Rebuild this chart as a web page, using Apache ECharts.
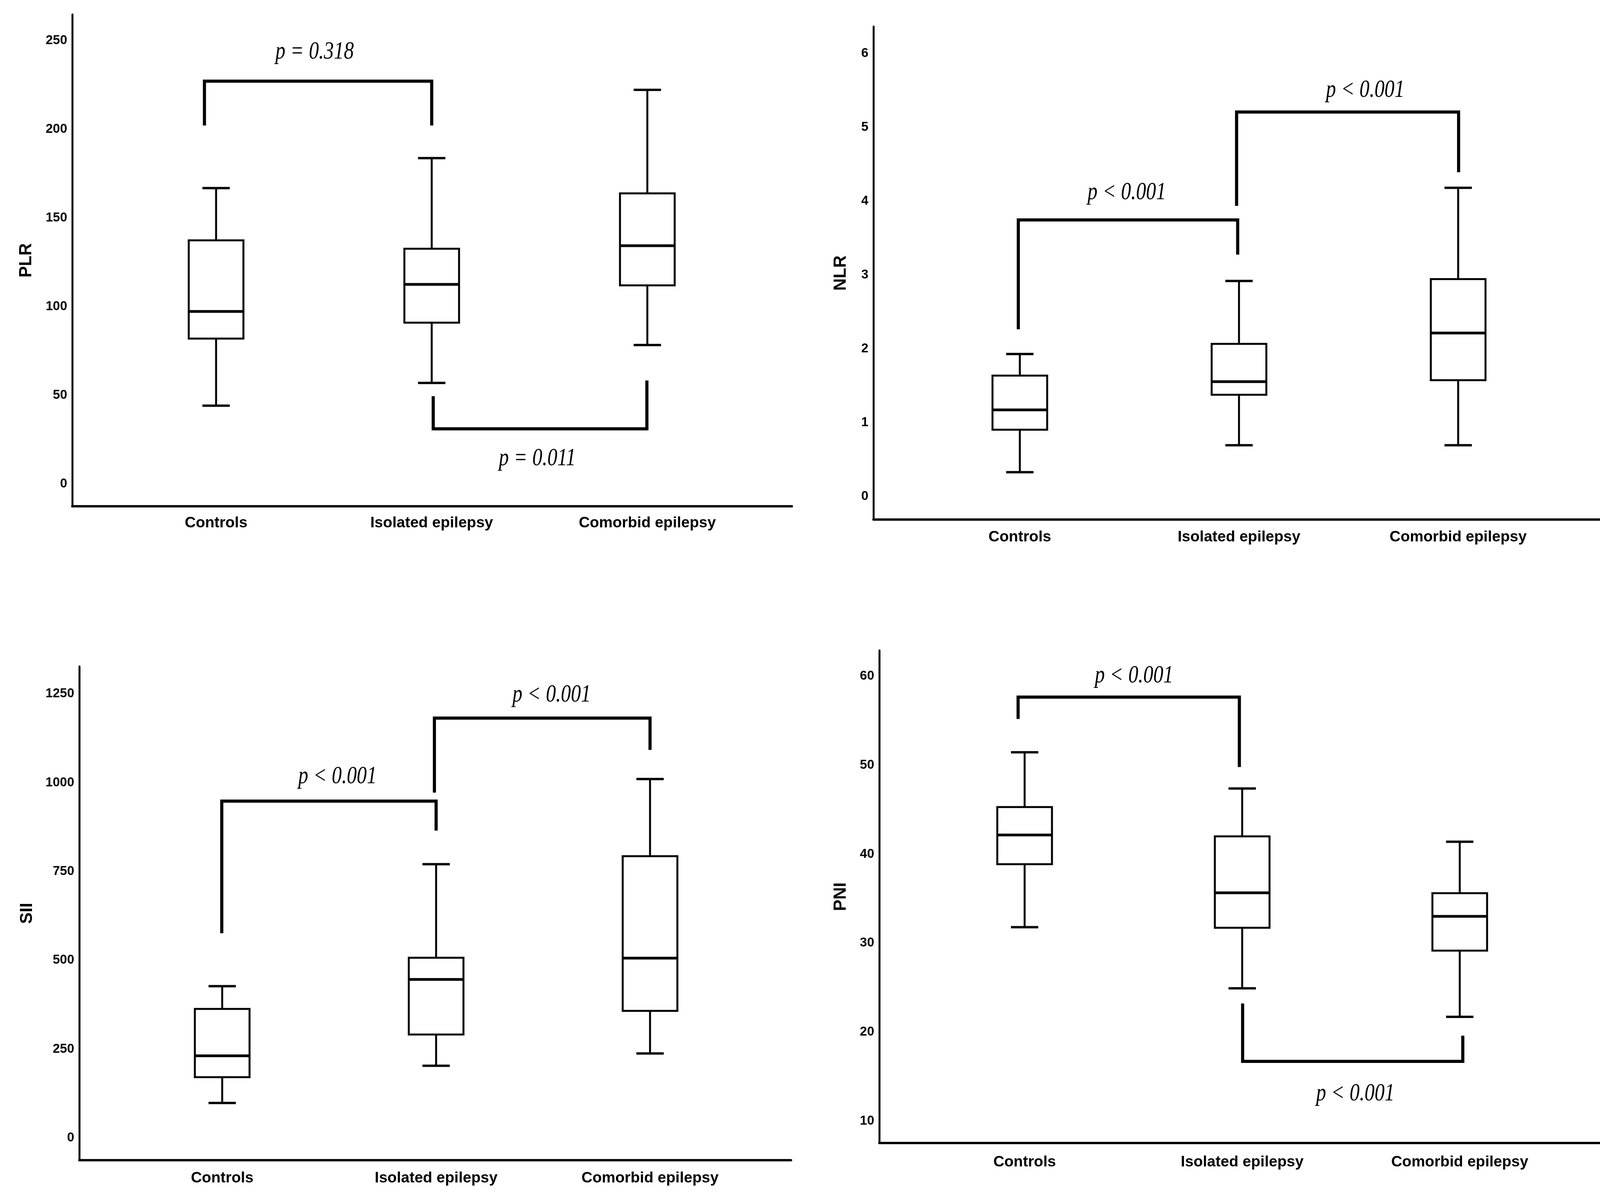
<!DOCTYPE html>
<html><head><meta charset="utf-8">
<script src="https://cdn.jsdelivr.net/npm/echarts@6/dist/echarts.min.js"></script>
<style>html,body{margin:0;padding:0;background:#fff}#c{width:4150px;height:3077px}</style>
</head><body><div id="c"></div>
<script>
const categories = ['Controls', 'Isolated epilepsy', 'Comorbid epilepsy'];
// box values per group: [min, Q1, median, Q3, max]
const plrValues = [[44.2, 82.0, 97.3, 137.4, 166.9], [57.0, 91.0, 112.6, 132.7, 183.8], [78.4, 112.0, 134.4, 163.9, 222.3]];
const nlrValues = [[0.33, 0.905, 1.174, 1.638, 1.93], [0.694, 1.379, 1.555, 2.068, 2.919], [0.694, 1.575, 2.215, 2.944, 4.181]];
const siiValues = [[98.5, 171, 231, 363, 427], [203, 291, 446, 507, 770.5], [237.6, 357.5, 506, 793, 1010]];
const pniValues = [[31.8, 38.87, 42.16, 45.29, 51.45], [24.93, 31.73, 35.66, 42.0, 47.38], [21.72, 29.16, 33.01, 35.62, 41.4]];
// y tick labels
const plrTicks = [0, 50, 100, 150, 200, 250];
const nlrTicks = [0, 1, 2, 3, 4, 5, 6];
const siiTicks = [0, 250, 500, 750, 1000, 1250];
const pniTicks = [10, 20, 30, 40, 50, 60];
// significance brackets: [x from, x to, bar value, left leg end, right leg end]
const plrBrackets = [[-0.054, 1.0, 227.2, 202.2, 202.2], [1.007, 1.998, 31.1, 49.5, 58.4]];
const nlrBrackets = [[-0.007, 0.994, 3.746, 2.264, 3.276], [0.989, 2.002, 5.208, 3.936, 4.391]];
const siiBrackets = [[-0.002, 1.0, 948, 576, 865], [0.992, 2.0, 1181.5, 972, 1092]];
const pniBrackets = [[-0.03, 0.987, 57.65, 55.2, 49.8], [1.002, 2.014, 16.72, 23.22, 19.6]];
// p-value annotations: text and [x, y]
const plrPText = ['p = 0.318', 'p = 0.011'];
const plrPPos = [[0.457, 243.6], [1.49, 14.3]];
const nlrPText = ['p < 0.001', 'p < 0.001'];
const nlrPPos = [[0.488, 4.117], [1.576, 5.501]];
const siiPText = ['p < 0.001', 'p < 0.001'];
const siiPPos = [[0.539, 1017], [1.54, 1247]];
const pniPText = ['p < 0.001', 'p < 0.001'];
const pniPPos = [[0.503, 60.04], [1.52, 13.08]];

const SANS = "'Liberation Sans',Arial,Helvetica,sans-serif";
const panels = [
  {name: 'PLR', values: plrValues, ticks: plrTicks, brackets: plrBrackets, ptext: plrPText, ppos: plrPPos,
   grid: {left: 185, top: 37, width: 1842, height: 1259}, x: [-0.667, 2.670], y: [-12.55, 264.8], nameGap: 95, catMargin: 24},
  {name: 'NLR', values: nlrValues, ticks: nlrTicks, brackets: nlrBrackets, ptext: nlrPText, ppos: nlrPPos,
   grid: {left: 2236, top: 68, width: 1870, height: 1262}, x: [-0.668, 2.665], y: [-0.312, 6.365], nameGap: 61, catMargin: 26},
  {name: 'SII', values: siiValues, ticks: siiTicks, brackets: siiBrackets, ptext: siiPText, ppos: siiPPos,
   grid: {left: 203, top: 1706, width: 1822, height: 1264}, x: [-0.668, 2.659], y: [-62.7, 1327], nameGap: 111, catMargin: 27},
  {name: 'PNI', values: pniValues, ticks: pniTicks, brackets: pniBrackets, ptext: pniPText, ppos: pniPPos,
   grid: {left: 2251, top: 1665, width: 1858, height: 1261}, x: [-0.668, 2.668], y: [7.54, 62.9], nameGap: 76, catMargin: 30}
];

function renderBox(params, api) {
  const x = api.value(0);
  const c = v => api.coord([x, v]);
  const pMin = c(api.value(1)), pQ1 = c(api.value(2)), pMed = c(api.value(3)), pQ3 = c(api.value(4)), pMax = c(api.value(5));
  const cx = pMin[0], bw = 140, cw = 70;
  const ls = {stroke: '#000', lineWidth: 5};
  return {type: 'group', children: [
    {type: 'line', shape: {x1: cx, y1: pQ3[1], x2: cx, y2: pMax[1]}, style: ls},
    {type: 'line', shape: {x1: cx, y1: pQ1[1], x2: cx, y2: pMin[1]}, style: ls},
    {type: 'line', shape: {x1: cx - cw / 2, y1: pMax[1], x2: cx + cw / 2, y2: pMax[1]}, style: {stroke: '#000', lineWidth: 6}},
    {type: 'line', shape: {x1: cx - cw / 2, y1: pMin[1], x2: cx + cw / 2, y2: pMin[1]}, style: {stroke: '#000', lineWidth: 6}},
    {type: 'rect', shape: {x: cx - bw / 2, y: pQ3[1], width: bw, height: pQ1[1] - pQ3[1]}, style: {stroke: '#000', lineWidth: 5, fill: '#fff'}},
    {type: 'line', shape: {x1: cx - bw / 2, y1: pMed[1], x2: cx + bw / 2, y2: pMed[1]}, style: {stroke: '#000', lineWidth: 7}}
  ]};
}
function renderBracket(params, api) {
  const x1 = api.value(0), x2 = api.value(1), yb = api.value(2), l1 = api.value(3), l2 = api.value(4);
  const pts = [api.coord([x1, l1]), api.coord([x1, yb]), api.coord([x2, yb]), api.coord([x2, l2])];
  return {type: 'polyline', shape: {points: pts}, style: {stroke: '#000', lineWidth: 8, fill: null, lineJoin: 'miter', lineCap: 'butt'}};
}
function makeTextRenderer(texts) {
  return function (params, api) {
    const p = api.coord([api.value(0), api.value(1)]);
    return {type: 'text', x: p[0], y: p[1], scaleX: 0.8,
      style: {x: 0, y: 0, text: texts[params.dataIndex], align: 'center', verticalAlign: 'middle',
        font: "italic 64px 'Liberation Serif','Times New Roman',serif", fill: '#000'}};
  };
}

const grids = [], xAxes = [], yAxes = [], series = [];
panels.forEach((p, i) => {
  grids.push(Object.assign({containLabel: false}, p.grid));
  xAxes.push({type: 'value', gridIndex: i, min: p.x[0], max: p.x[1],
    axisLine: {show: true, onZero: false, lineStyle: {color: '#000', width: 6}},
    axisTick: {show: false}, splitLine: {show: false},
    axisLabel: {customValues: [0, 1, 2], formatter: v => categories[Math.round(v)], margin: p.catMargin,
      fontFamily: SANS, fontWeight: 'bold', fontSize: 39, color: '#000'}});
  yAxes.push({type: 'value', gridIndex: i, min: p.y[0], max: p.y[1], name: p.name, nameLocation: 'middle', nameGap: p.nameGap,
    nameRotate: 90, nameTextStyle: {fontFamily: SANS, fontWeight: 'bold', fontSize: 44, color: '#000'},
    axisLine: {show: true, onZero: false, lineStyle: {color: '#000', width: 5}},
    axisTick: {show: false}, splitLine: {show: false},
    axisLabel: {customValues: p.ticks, formatter: v => String(v), margin: 13, fontFamily: SANS, fontWeight: 'bold', fontSize: 33, color: '#000'}});
  series.push({type: 'custom', xAxisIndex: i, yAxisIndex: i, renderItem: renderBracket, silent: true,
    data: p.brackets, encode: {x: [0, 1], y: [2, 3, 4]}});
  series.push({type: 'custom', xAxisIndex: i, yAxisIndex: i, renderItem: renderBox, silent: true,
    data: p.values.map((v, k) => [k].concat(v)), encode: {x: 0, y: [1, 2, 3, 4, 5]}});
  series.push({type: 'custom', xAxisIndex: i, yAxisIndex: i, renderItem: makeTextRenderer(p.ptext), silent: true,
    data: p.ppos, encode: {x: 0, y: 1}});
});

const chart = echarts.init(document.getElementById('c'), null, {renderer: 'canvas'});
chart.setOption({backgroundColor: '#fff', animation: false, grid: grids, xAxis: xAxes, yAxis: yAxes, series: series});
</script></body></html>
